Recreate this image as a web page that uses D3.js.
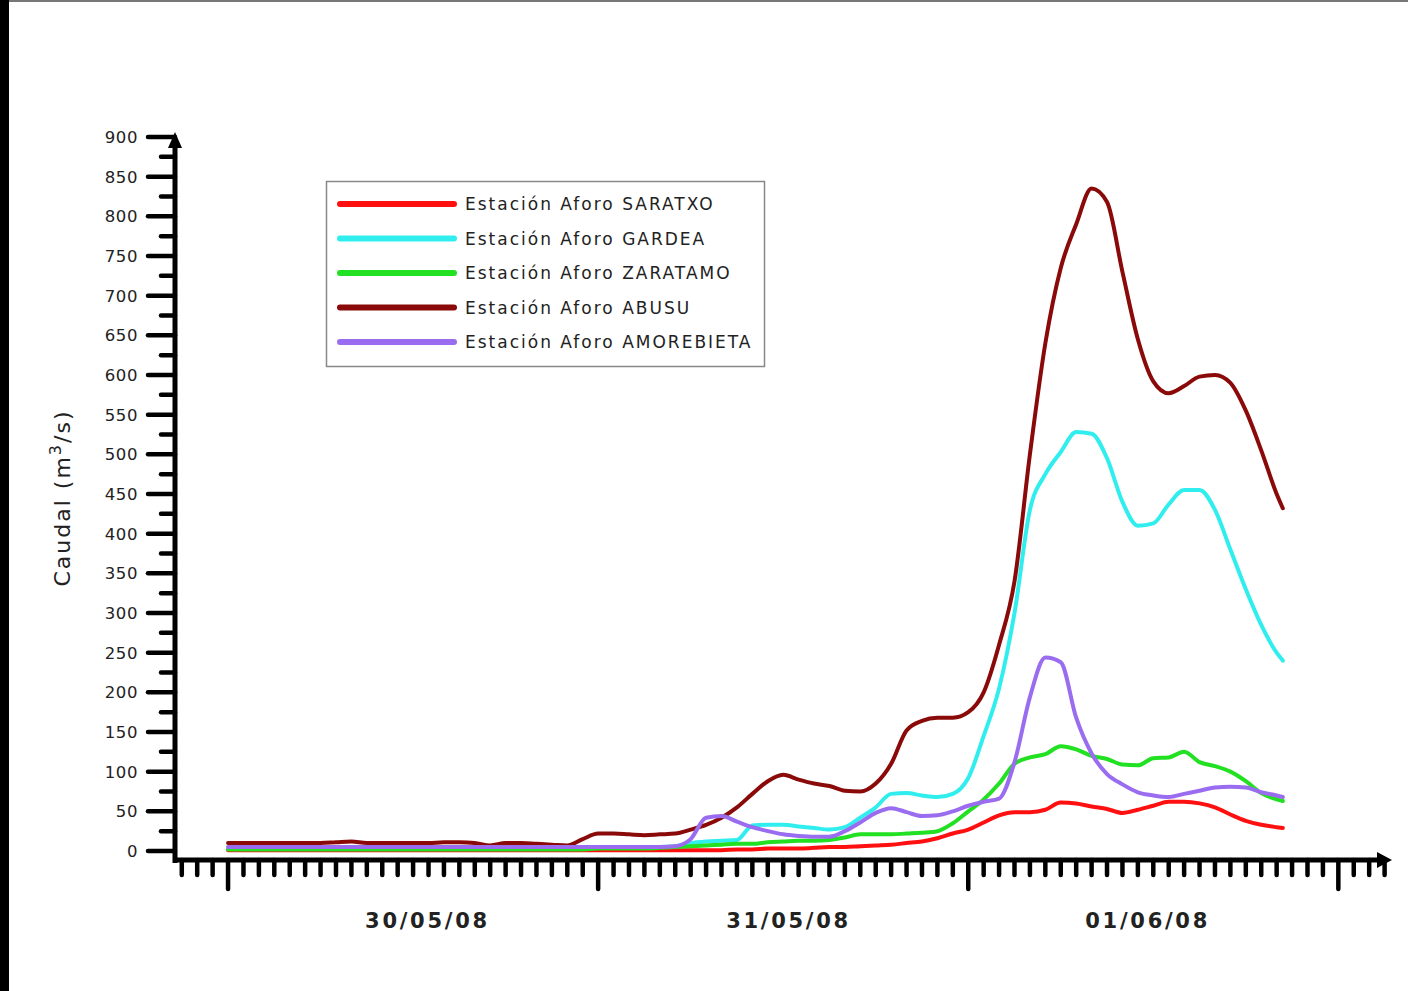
<!DOCTYPE html>
<html>
<head>
<meta charset="utf-8">
<script src="https://cdn.jsdelivr.net/npm/d3@7"></script>
<style>
  html, body { margin: 0; padding: 0; background: #fff; }
  svg { display: block; }
</style>
</head>
<body>
<svg id="chart" width="1408" height="991"></svg>
<script>
// ---- DATA ----
// hour offsets from 30/05/2008 00:00
const hours = [0,1,2,3,4,5,6,7,8,9,10,11,12,13,14,15,16,17,18,19,20,21,22,23,24,25,26,27,28,29,30,31,32,33,34,35,36,37,38,39,40,41,42,43,44,45,46,47,48,49,50,51,52,53,54,55,56,57,58,59,60,61,62,63,64,65,66,67,68,68.4];

const saratxo = [1,1,1,1,1,1,1,1,1,1,1,1,1,1,1,1,1,1,1,1,1,1,1,1,1,1,1,1,1,1,1,1,1,2,2,3,3,3,4,5,5,6,7,8,10,12,16,22,27,36,45,49,49,52,61,60,56,53,48,52,57,62,62,60,55,46,38,33,30,29];
const gardea = [4,4,4,4,4,4,4,4,4,4,4,4,4,4,4,4,4,4,4,4,4,4,4,5,5,5,5,5,5,6,10,12,13,14,32,33,33,31,29,27,30,42,55,72,73,70,68,72,92,145,205,300,430,475,503,528,526,495,440,410,413,437,455,455,430,380,330,285,250,240];
const zaratamo = [2,2,2,2,2,2,2,2,2,2,2,2,2,2,2,2,2,2,2,2,2,2,2,2,3,3,3,3,4,5,6,7,8,9,9,11,12,13,13,14,17,21,21,21,22,23,25,35,50,65,85,110,118,122,132,128,120,116,109,108,117,118,125,112,107,100,88,73,65,63];
const abusu = [10,10,10,10,10,10,10,11,12,10,10,10,10,10,11,11,10,7,10,10,9,8,7,15,22,22,21,20,21,22,27,33,42,55,72,88,96,90,85,82,76,75,85,110,152,164,168,168,175,200,260,340,500,640,735,790,835,818,730,645,592,577,586,598,600,590,555,505,450,432];
const amorebieta = [5,5,5,5,5,5,5,5,5,5,5,5,5,5,5,5,5,5,5,5,5,5,5,5,5,5,5,5,5,6,15,42,44,37,30,25,21,19,18,18,25,36,48,54,49,44,45,50,57,62,66,112,194,244,238,168,123,97,84,74,70,68,72,76,80,81,80,74,70,68];

const seriesNames = ["Estación Aforo SARATXO","Estación Aforo GARDEA","Estación Aforo ZARATAMO","Estación Aforo ABUSU","Estación Aforo AMOREBIETA"];
const seriesValues = [saratxo, gardea, zaratamo, abusu, amorebieta];
const seriesColors = ["#ff1010","#30eeee","#22e022","#8a0a0a","#9a6cf0"];

const yTicks = [0,50,100,150,200,250,300,350,400,450,500,550,600,650,700,750,800,850,900];
const yMinorTicks = [25,75,125,175,225,275,325,375,425,475,525,575,625,675,725,775,825,875];
const dayLabels = ["30/05/08","31/05/08","01/06/08"];
const yTitle = "Caudal (m";
const yTitleSup = "3";
const yTitleEnd = "/s)";

// ---- CHART ----
const svg = d3.select("#chart");
const base = new Date(2008, 4, 30, 0, 0);
const toDate = h => new Date(base.getTime() + h * 3600000);

const x = d3.scaleTime()
  .domain([toDate(-3.44), toDate(75.48)])
  .range([175, 1392]);
const y = d3.scaleLinear().domain([0, 900]).range([851, 137]);

// page frame artifacts
svg.append("rect").attr("x", 0).attr("y", 0).attr("width", 1408).attr("height", 991).attr("fill", "#fff");
svg.append("rect").attr("x", 0).attr("y", 0).attr("width", 1408).attr("height", 2).attr("fill", "#777");
svg.append("rect").attr("x", 0).attr("y", 0).attr("width", 9).attr("height", 991).attr("fill", "#000");

// Y axis
const yAxisG = svg.append("g").attr("transform", "translate(175,0)");
yAxisG.selectAll("line.maj").data(yTicks).join("line")
  .attr("x1", -27).attr("x2", 0)
  .attr("y1", d => y(d)).attr("y2", d => y(d))
  .attr("stroke", "#000").attr("stroke-width", 4.5).attr("stroke-linecap", "round");
yAxisG.selectAll("line.min").data(yMinorTicks).join("line")
  .attr("x1", -14).attr("x2", 0)
  .attr("y1", d => y(d)).attr("y2", d => y(d))
  .attr("stroke", "#000").attr("stroke-width", 4.5).attr("stroke-linecap", "round");
yAxisG.selectAll("text").data(yTicks).join("text")
  .attr("x", -37).attr("y", d => y(d)).attr("dy", "0.36em")
  .attr("text-anchor", "end")
  .attr("font-family", "DejaVu Sans").attr("font-size", 16.5)
  .attr("fill", "#222").attr("letter-spacing", 0.6)
  .text(d => d);
svg.append("line").attr("x1", 175).attr("x2", 175).attr("y1", 863).attr("y2", 140)
  .attr("stroke", "#000").attr("stroke-width", 5);
svg.append("path").attr("d", "M175,132 L182,148 L168,148 Z").attr("fill", "#000");

// X axis
const hourTicks = d3.timeHour.range(toDate(-3), toDate(75.2));
const xAxisG = svg.append("g");
xAxisG.selectAll("line").data(hourTicks).join("line")
  .attr("x1", d => x(d)).attr("x2", d => x(d))
  .attr("y1", 860)
  .attr("y2", d => d.getHours() === 0 ? 889 : 875)
  .attr("stroke", "#000").attr("stroke-width", 4.5).attr("stroke-linecap", "round");
svg.append("line").attr("x1", 173).attr("x2", 1384).attr("y1", 860).attr("y2", 860)
  .attr("stroke", "#000").attr("stroke-width", 5);
svg.append("path").attr("d", "M1392,860 L1377,852 L1377,868 Z").attr("fill", "#000");

const dayDates = dayLabels.map((d, i) => toDate(24 * i + 12));
svg.append("g").selectAll("text").data(dayLabels).join("text")
  .attr("x", (d, i) => x(dayDates[i]) + [13, 4, -7][i])
  .attr("y", 928)
  .attr("text-anchor", "middle")
  .attr("font-family", "DejaVu Sans").attr("font-weight", "bold")
  .attr("font-size", 21).attr("fill", "#222")
  .attr("textLength", 122).attr("lengthAdjust", "spacing")
  .text(d => d);

// Y title
const yt = svg.append("text")
  .attr("transform", "translate(70,498) rotate(-90)")
  .attr("text-anchor", "middle")
  .attr("font-family", "DejaVu Sans").attr("font-size", 22)
  .attr("fill", "#222").attr("letter-spacing", 2);
yt.append("tspan").text(yTitle);
yt.append("tspan").attr("baseline-shift", "super").attr("font-size", 16).text(yTitleSup);
yt.append("tspan").text(yTitleEnd);

// Lines
const line = d3.line()
  .x((d, i) => x(toDate(hours[i])))
  .y(d => y(d))
  .curve(d3.curveMonotoneX);
svg.append("g").selectAll("path").data(seriesValues).join("path")
  .attr("d", d => line(d))
  .attr("fill", "none")
  .attr("stroke", (d, i) => seriesColors[i])
  .attr("stroke-width", 4)
  .attr("stroke-linejoin", "round").attr("stroke-linecap", "round");

// Legend
const lg = svg.append("g");
lg.append("rect").attr("x", 326.5).attr("y", 181.5).attr("width", 438).attr("height", 185)
  .attr("fill", "#fff").attr("stroke", "#888").attr("stroke-width", 1.5);
const rows = lg.selectAll("g.row").data(seriesNames).join("g")
  .attr("transform", (d, i) => `translate(0,${204 + i * 34.5})`);
rows.append("line").attr("x1", 340).attr("x2", 454).attr("y1", 0).attr("y2", 0)
  .attr("stroke", (d, i) => seriesColors[i]).attr("stroke-width", 6).attr("stroke-linecap", "round");
rows.append("text").attr("x", 465).attr("y", 0).attr("dy", "0.36em")
  .attr("font-family", "DejaVu Sans").attr("font-size", 17)
  .attr("fill", "#222").attr("letter-spacing", 2)
  .text(d => d);
</script>
</body>
</html>
